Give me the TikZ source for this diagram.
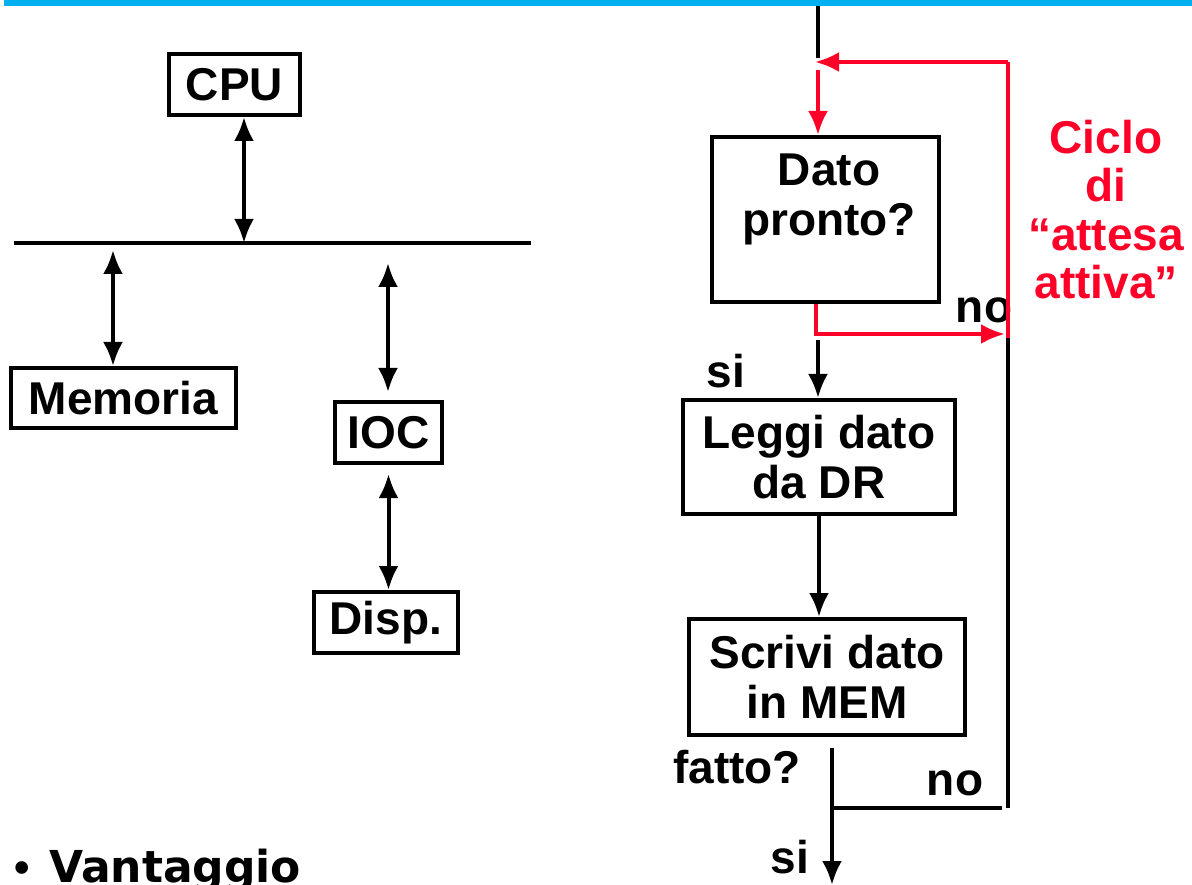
\documentclass[tikz,border=0pt]{standalone}
\usepackage{fontspec}
\setmainfont{Liberation Sans}
\newfontfamily\roundfont{DejaVu Sans}
\usetikzlibrary{arrows.meta}

\definecolor{barblue}{RGB}{0,176,240}
\definecolor{loopred}{RGB}{255,0,40}

\tikzset{
  box/.style={draw, line width=4pt, inner sep=0pt, align=center,
    font=\fontsize{46}{50}\selectfont\bfseries},
  txt/.style={inner sep=0pt, align=center, font=\fontsize{46}{50}\selectfont\bfseries},
  redtxt/.style={txt, text=loopred, font=\fontsize{46}{48.5}\selectfont\bfseries},
  redline/.style={draw=loopred, line width=4pt},
}

\begin{document}
\begin{tikzpicture}[x=1pt, y=-1pt, line width=4pt, >={Latex[length=24pt,width=20pt]}]
\useasboundingbox (0,0) rectangle (1192,885);
\fill[barblue] (4,0) rectangle (1192,6);

% Nodes (left: bus system)
\node[box, minimum width=131, minimum height=61] (CPU) at (234.5,84.5) {CPU};
\node[box, minimum width=225, minimum height=60] (MEM) at (123.5,398) {Memoria};
\node[box, minimum width=107, minimum height=61] (IOC) at (388.5,432.5) {IOC};
\node[box, minimum width=144, minimum height=61] (DISP) at (386,622.5) {Disp.};

% Nodes (right: flow chart)
\node[box, minimum width=227, minimum height=165] (DATO) at (825.5,219.5) {};
\node[txt, anchor=north] (DATOTXT) at (829,152) {Dato\\pronto?};
\node[box, minimum width=272, minimum height=114] (LEGGI) at (819,457) {Leggi dato\\da DR};
\node[box, minimum width=276, minimum height=116] (SCRIVI) at (827,677) {Scrivi dato\\in MEM};

\node[redtxt, anchor=north] (CICLO) at (1106,118) {Ciclo\\di\\“attesa\\attiva”};

\node[txt, anchor=base] (NO1) at (984,323) {no};
\node[txt, anchor=base] (SI1) at (726,388) {si};
\node[txt, anchor=base] (FATTO) at (737,783) {fatto?};
\node[txt, anchor=base] (NO2) at (955,795) {no};
\node[txt, anchor=base] (SI2) at (790,873) {si};

\node[anchor=base west, inner sep=0pt, font=\fontsize{44}{48}\selectfont\bfseries] (VANT) at (12,882)
  {\textbullet\hspace{20pt}{\roundfont Vantaggio}};

% Coordinates
\coordinate (busL) at (14,243);
\coordinate (busR) at (531,243);
\coordinate (cpuX) at (244,0);
\coordinate (memX) at (113,250);
\coordinate (iocX) at (388,263);
\coordinate (in) at (818,6);
\coordinate (inEnd) at (818,58);
\coordinate (redTip) at (815,62);
\coordinate (redDown) at (818,70);
\coordinate (loopTR) at (1008,62);
\coordinate (loopBR) at (1008,338);
\coordinate (datoX) at (816,0);
\coordinate (noTip) at (1005,334);
\coordinate (siStart) at (818,340);
\coordinate (fatto) at (832,748);
\coordinate (out) at (832,885);
\coordinate (back) at (1008,808);
\coordinate (backEnd) at (1002,808);

% Bus
\draw (busL) -- (busR);

% Bidirectional arrows
\draw[<->] (CPU.south -| cpuX) -- (busL -| cpuX);
\draw[<->] (memX) -- (memX |- MEM.north);
\draw[<->, shorten >=8pt] (iocX) -- (iocX |- IOC.north);
\draw[<->, shorten <=9pt] (IOC.south) -- (IOC.south |- DISP.north);

% Flow chart
\draw (in) -- (inEnd);
\draw[->] (siStart) -- (siStart |- LEGGI.north);
\draw[->] (LEGGI.south) -- (LEGGI.south |- SCRIVI.north);
\draw[->] (fatto) -- (out);
\draw (fatto |- back) -- (backEnd);
\draw (loopBR) -- (back);

% Busy waiting loop
\draw[redline, ->] (loopTR) -- (redTip);
\draw[redline, ->] (redDown) -- (redDown |- DATO.north);
\draw[redline, ->] (DATO.south -| datoX) |- (noTip);
\draw[redline] (loopTR) -- (loopBR);

\end{tikzpicture}
\end{document}
